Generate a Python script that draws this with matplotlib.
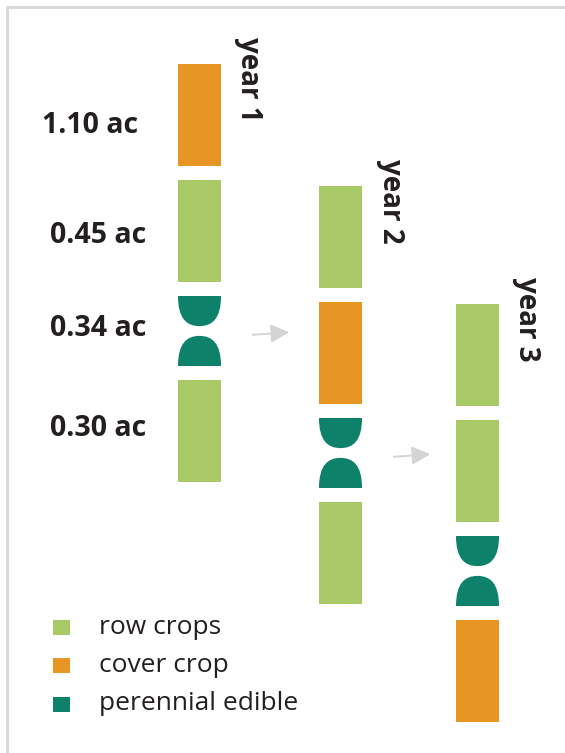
import matplotlib
matplotlib.use("Agg")
import matplotlib.pyplot as plt
from matplotlib.patches import Rectangle, PathPatch, FancyArrowPatch
from matplotlib.path import Path

#%%data
years = ["year 1", "year 2", "year 3"]
rotation = [
    ["cover", "row", "perennial", "row"],      # year 1
    ["row", "cover", "perennial", "row"],      # year 2
    ["row", "row", "perennial", "cover"],      # year 3
]
area_labels = ["1.10 ac", "0.45 ac", "0.34 ac", "0.30 ac"]
legend_keys = ["row", "cover", "perennial"]
legend_names = ["row crops", "cover crop", "perennial edible"]

colors = {"row": "#A8C966", "cover": "#E79623", "perennial": "#0E816B"}

#%%layout (pixel units, y down)
col_x = [178, 319, 456]
col_top = [64, 186, 304]
bar_w = 43
block_h = 102
per_h = 70
gap = 14


def perennial(ax, x0, y0, w, h, c):
    """two half-rounded shapes facing each other"""
    hh = h * 0.43
    xc = x0 + w / 2
    # top shape: flat top, rounded bottom
    top = Path([(x0, y0), (x0 + w, y0),
                (x0 + w, y0 + hh * 0.75), (xc + w * 0.3, y0 + hh), (xc, y0 + hh),
                (xc - w * 0.3, y0 + hh), (x0, y0 + hh * 0.75), (x0, y0),
                (x0, y0)],
               [Path.MOVETO, Path.LINETO,
                Path.CURVE4, Path.CURVE4, Path.CURVE4,
                Path.CURVE4, Path.CURVE4, Path.CURVE4,
                Path.CLOSEPOLY])
    yb = y0 + h
    bot = Path([(x0, yb), (x0 + w, yb),
                (x0 + w, yb - hh * 0.75), (xc + w * 0.3, yb - hh), (xc, yb - hh),
                (xc - w * 0.3, yb - hh), (x0, yb - hh * 0.75), (x0, yb),
                (x0, yb)],
               top.codes)
    for p in (top, bot):
        ax.add_patch(PathPatch(p, facecolor=c, edgecolor="none"))


def main():
    fig = plt.figure(figsize=(5.65, 7.53), dpi=100)
    ax = fig.add_axes([0, 0, 1, 1])
    ax.set_xlim(0, 565)
    ax.set_ylim(753, 0)
    ax.axis("off")

    # frame
    ax.plot([7, 7, 565], [753, 7, 7], color="#d9d9d9", lw=2.2, solid_capstyle="butt")

    centers = []
    for i, seq in enumerate(rotation):
        y = col_top[i]
        cc = []
        for kind in seq:
            h = per_h if kind == "perennial" else block_h
            if kind == "perennial":
                perennial(ax, col_x[i], y, bar_w, h, colors[kind])
            else:
                ax.add_patch(Rectangle((col_x[i], y), bar_w, h, facecolor=colors[kind], edgecolor="none"))
            cc.append(y + h / 2)
            y += h + gap
        centers.append(cc)

        ax.text(col_x[i] + bar_w + 28, col_top[i] - 27, years[i], rotation=-90,
                ha="center", va="top", fontsize=20, fontweight="bold", color="#231f20",
                family="Open Sans")

    # area labels next to year 1
    offs = [10, 4, -3, -3]
    rights = [138, 146, 146, 146]
    for lab, yc, o, xr in zip(area_labels, centers[0], offs, rights):
        ax.text(xr, yc + o, lab, ha="right", va="center", fontsize=20.5,
                fontweight="bold", color="#231f20", family="Open Sans")

    # arrows between years
    for i in range(2):
        x0 = col_x[i] + bar_w + 29
        y0 = centers[i][2] + 4
        ax.add_patch(FancyArrowPatch((x0, y0), (x0 + 42, y0 - 3), arrowstyle="-|>,head_length=7,head_width=3.5",
                                     color="#d4d4d4", lw=1.4, mutation_scale=1.6))

    # legend
    for j, (k, name) in enumerate(zip(legend_keys, legend_names)):
        y = 627 + j * 38.5
        ax.add_patch(Rectangle((53, y - 7.5), 17, 15, facecolor=colors[k], edgecolor="none"))
        ax.text(99, y, name, ha="left", va="center", fontsize=19, color="#231f20",
                family="Open Sans")

    fig.savefig("out.png", dpi=100)


if __name__ == "__main__":
    main()
